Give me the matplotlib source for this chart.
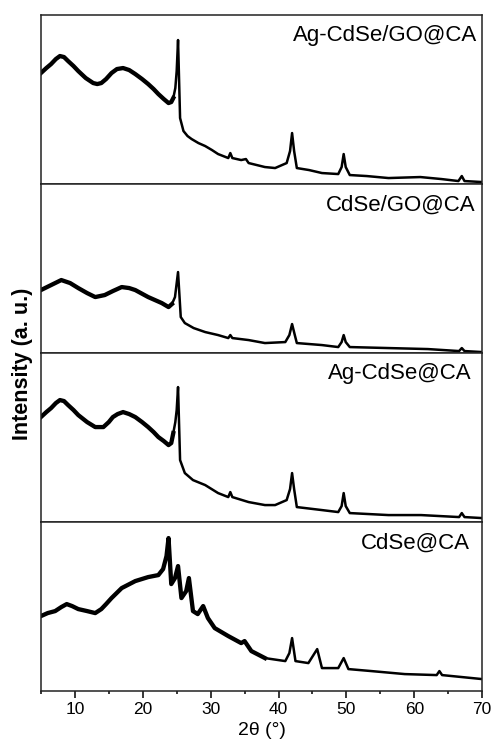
import matplotlib.pyplot as plt
from matplotlib.ticker import MultipleLocator
import numpy as np

plt.rcParams['font.family'] = ['Liberation Sans', 'DejaVu Sans']

# sample names, top to bottom
labels = ['Ag-CdSe/GO@CA', 'CdSe/GO@CA', 'Ag-CdSe@CA', 'CdSe@CA']

# 2theta (deg) and intensity (a.u.), one pair per pattern
x_agcdse_go = [5.0, 5.8, 6.5, 7.2, 7.8, 8.4, 9.0, 9.8, 10.5, 11.6, 12.7, 13.3, 13.9, 14.6, 15.4,
               16.2, 17.1, 18.0, 18.9, 19.9, 20.8, 21.6, 22.3, 23.1, 23.8, 24.2, 24.5, 24.8,
               25.0, 25.2, 25.5, 26.0, 26.6, 27.2, 28.2, 29.2, 30.2, 31.1, 32.6, 32.9, 33.2,
               34.5, 35.2, 35.6, 38.0, 39.5, 41.2, 41.7, 42.0, 42.3, 42.7, 44.5, 46.4, 48.8,
               49.3, 49.6, 49.9, 50.5, 53.0, 56.2, 60.9, 64.0, 66.5, 67.0, 67.4, 70.0]
y_agcdse_go = [111, 116, 120, 125, 128, 127, 123, 118, 113, 106, 101, 100, 101, 105, 111,
               115, 116, 114, 110, 105, 100, 95, 90, 85, 81, 82, 86, 96,
               113, 144, 66, 53, 48, 45, 41, 38, 34, 30, 26, 31, 26,
               24, 25, 21, 17, 16, 21, 33, 51, 33, 16, 14, 11, 10,
               17, 30, 17, 9, 8, 6, 7, 5, 3, 8, 3, 2]

x_cdse_go = [5.0, 6.5, 8.0, 9.3, 10.5, 11.8, 13.0, 14.4, 15.6, 16.9, 18.0, 18.9, 20.8, 22.8,
             23.8, 24.3, 24.75, 25.2, 25.6, 26.2, 27.5, 29.2, 31.1, 32.6, 32.9, 33.2, 35.6,
             38.0, 41.0, 41.6, 42.0, 42.4, 42.7, 46.4, 48.8, 49.3, 49.6, 49.9, 50.5, 56.2,
             62.0, 66.6, 67.0, 67.4, 70.0]
y_cdse_go = [63, 68, 73, 70, 65, 60, 56, 58, 62, 66, 65, 63, 56, 50,
             46, 49, 56, 81, 36, 30, 25, 21, 18, 15, 18, 15, 13,
             10, 11, 18, 29, 18, 10, 8, 6, 11, 18, 11, 6, 5,
             4, 2, 5, 2, 1]

x_agcdse = [5.0, 5.8, 6.5, 7.2, 7.8, 8.4, 9.0, 9.8, 10.5, 11.8, 13.0, 14.2, 15.0, 15.6, 16.3,
            17.1, 18.0, 18.9, 19.9, 20.8, 21.6, 22.3, 23.1, 23.8, 24.2, 24.5, 24.8, 25.0,
            25.2, 25.5, 26.2, 27.4, 29.2, 31.1, 32.6, 32.9, 33.2, 35.6, 38.0, 39.5, 41.2,
            41.7, 42.0, 42.3, 42.7, 46.4, 48.8, 49.3, 49.6, 49.9, 50.5, 56.2, 61.0, 66.6,
            67.0, 67.4, 70.0]
y_agcdse = [105, 110, 114, 119, 122, 121, 117, 112, 107, 100, 95, 95, 100, 105, 108,
            110, 108, 105, 100, 95, 90, 85, 81, 77, 79, 89, 100, 112,
            135, 62, 49, 42, 37, 29, 25, 30, 25, 20, 17, 17, 22,
            33, 49, 33, 15, 12, 10, 16, 29, 16, 9, 7, 7, 5,
            9, 5, 4]

x_cdse = [5.0, 6.0, 7.1, 8.0, 8.8, 9.6, 10.5, 11.8, 13.0, 13.9, 14.6, 15.4, 16.9, 18.9, 20.8,
          22.3, 23.0, 23.5, 23.8, 24.2, 24.75, 25.2, 25.7, 26.4, 26.8, 27.4, 28.1, 28.9,
          29.6, 30.6, 31.6, 32.6, 34.5, 35.0, 36.0, 38.0, 41.0, 41.6, 42.0, 42.5, 44.4,
          45.7, 46.4, 48.8, 49.6, 50.3, 53.7, 58.6, 63.3, 63.7, 64.1, 70.0]
y_cdse = [75, 78, 80, 84, 87, 85, 82, 80, 78, 82, 87, 93, 103, 110, 114,
          116, 122, 135, 153, 107, 113, 125, 93, 100, 113, 80, 77, 85,
          73, 63, 59, 55, 48, 50, 40, 33, 30, 38, 53, 30, 28,
          42, 23, 23, 33, 22, 20, 17, 16, 20, 16, 12]

series = [(x_agcdse_go, y_agcdse_go), (x_cdse_go, y_cdse_go),
          (x_agcdse, y_agcdse), (x_cdse, y_cdse)]
# end of the broad, noisy part of each pattern (drawn heavier)
noisy_end = [24.6, 24.5, 24.6, 40.0]
label_x = [0.989, 0.984, 0.977, 0.973]

fig, axes = plt.subplots(4, 1, sharex=True, figsize=(4.93, 7.52), dpi=100)
fig.subplots_adjust(left=0.083, right=0.978, top=0.980, bottom=0.081, hspace=0)

for ax, (xs, ys), name, lx, xe in zip(axes, series, labels, label_x, noisy_end):
    xs = np.array(xs)
    ys = np.array(ys)
    ax.plot(xs, ys, color='black', lw=1.8)
    m = xs <= xe
    ax.plot(xs[m], ys[m], color='black', lw=3.1, solid_joinstyle='round')
    ax.set_ylim(0, 169)
    ax.set_yticks([])
    for sp in ax.spines.values():
        sp.set_linewidth(1.1)
        sp.set_color('#222222')
    ax.text(lx, 0.845, name, transform=ax.transAxes, ha='right', va='baseline', fontsize=16)
    ax.tick_params(axis='x', which='both', bottom=False, labelbottom=False)

ax = axes[-1]
ax.set_xlim(5, 70)
ax.xaxis.set_major_locator(MultipleLocator(10))
ax.xaxis.set_minor_locator(MultipleLocator(5))
ax.tick_params(axis='x', which='both', bottom=True, labelbottom=True, direction='out')
ax.tick_params(axis='x', which='major', length=4.7, width=1.1, pad=3.5, labelsize=12.5)
ax.tick_params(axis='x', which='minor', length=2.5, width=1.1)
ax.set_xlabel('2θ (°)', fontsize=14, labelpad=3)

fig.text(0.045, 0.516, 'Intensity (a. u.)', rotation=90, ha='center', va='center',
         fontsize=15.5, fontweight='bold')

fig.savefig('out.png', dpi=100)
